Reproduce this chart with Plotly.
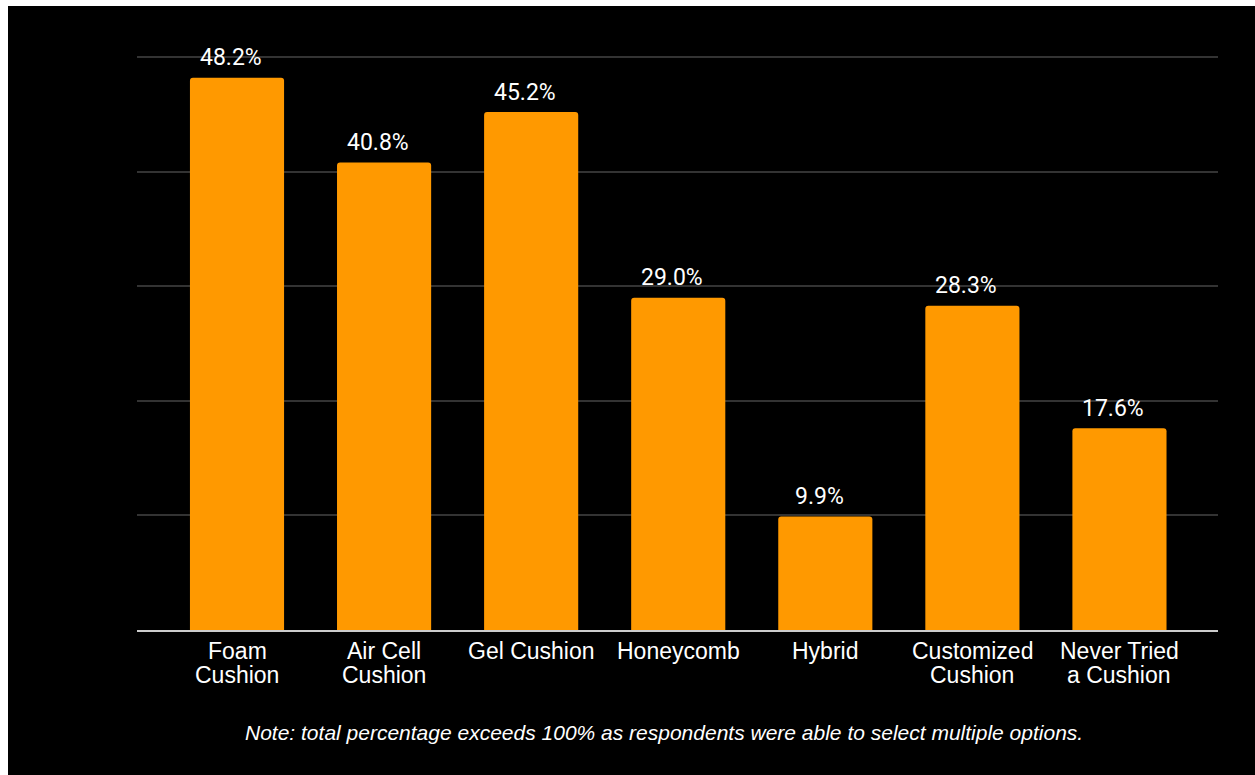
import plotly.graph_objects as go

categories = ["Foam<br>Cushion", "Air Cell<br>Cushion", "Gel Cushion", "Honeycomb",
              "Hybrid", "Customized<br>Cushion", "Never Tried<br>a Cushion"]
values = [48.2, 40.8, 45.2, 29.0, 9.9, 28.3, 17.6]
grid_ticks = [0, 10, 20, 30, 40, 50]
note = "Note: total percentage exceeds 100% as respondents were able to select multiple options."

W, H = 1255, 775
ML, MR, MT, MB = 137, 37, 55, 145
pw, ph = W - ML - MR, H - MT - MB
ymax = 50 * ph / (ph - 2)

idx = list(range(len(categories)))

fig = go.Figure()
fig.add_trace(go.Bar(
    x=idx, y=values, width=0.64,
    marker=dict(color="#FF9900", line=dict(width=0), cornerradius=3),
    hoverinfo="skip",
))

annotations = []
for i, v in zip(idx, values):
    annotations.append(dict(
        x=i, y=v, xref="x", yref="y", text=f"{v:.1f}%", showarrow=False,
        xanchor="center", yanchor="middle", yshift=20, xshift=-6,
        font=dict(family="Roboto", size=23, color="#ffffff"),
    ))
for i, c in zip(idx, categories):
    for k, line in enumerate(c.split("<br>")):
        annotations.append(dict(
            x=i, y=0, xref="x", yref="paper", text=line, showarrow=False,
            xanchor="center", yanchor="middle", yshift=-21 - 23.5 * k,
            font=dict(family="Liberation Sans, Arial", size=23, color="#ffffff"),
        ))
annotations.append(dict(
    x=(663.5 - ML) / pw, y=(MT + ph - 732) / ph, xref="paper", yref="paper",
    text=f"<i>{note}</i>", showarrow=False, xanchor="center", yanchor="middle",
    font=dict(family="Liberation Sans, Arial", size=21, color="#ffffff"),
))

fig.add_shape(type="rect", xref="paper", yref="paper", layer="below",
              x0=(8 - ML) / pw, x1=1.1, y0=-0.3, y1=1 + (MT - 6) / ph,
              fillcolor="#000000", line=dict(width=0))

fig.update_layout(
    width=W, height=H,
    margin=dict(l=ML, r=MR, t=MT, b=MB, pad=0),
    paper_bgcolor="#ffffff", plot_bgcolor="#000000",
    showlegend=False,
    annotations=annotations,
    xaxis=dict(range=[-0.68, 6.67], showticklabels=False, ticks="", showgrid=False,
               zeroline=False, showline=True, linecolor="#cccccc", linewidth=2,
               fixedrange=True),
    yaxis=dict(range=[0, ymax], tickvals=grid_ticks, showticklabels=False, ticks="",
               showgrid=True, gridcolor="#333333", gridwidth=1.5, zeroline=False,
               showline=False, fixedrange=True),
)

fig.write_html("out.html", config={"displayModeBar": False})
